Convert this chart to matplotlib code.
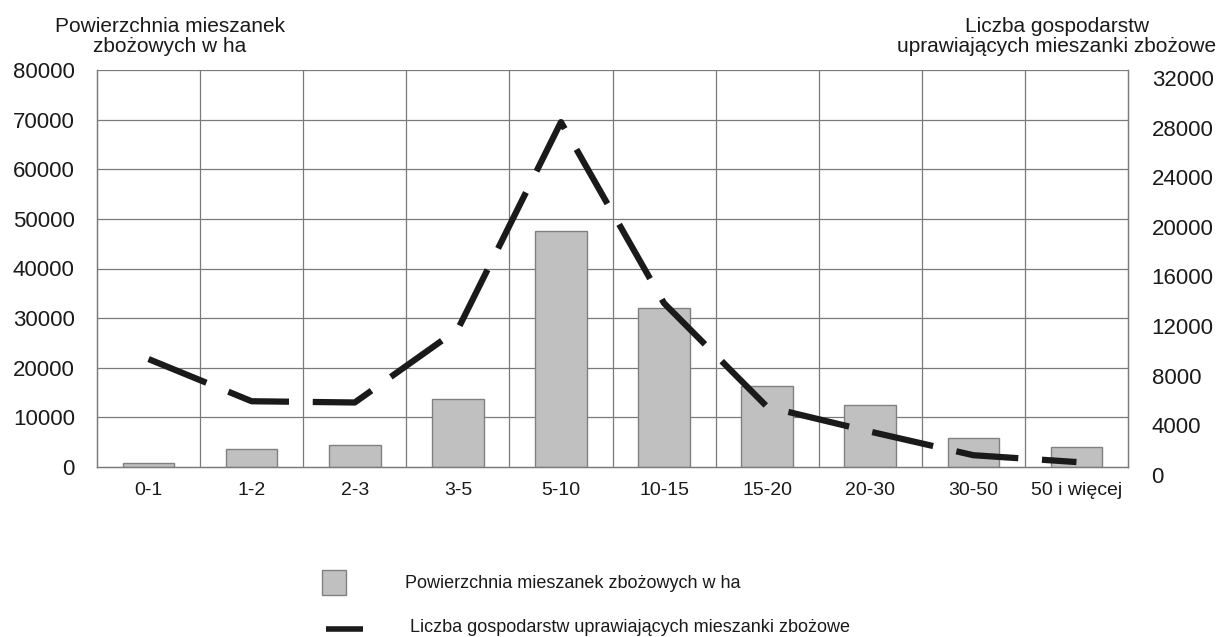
import matplotlib
matplotlib.use("Agg")
import matplotlib.pyplot as plt
import matplotlib.transforms as mtransforms
from matplotlib.patches import Rectangle
from matplotlib.lines import Line2D
import numpy as np

plt.rcParams['font.family'] = ['Liberation Sans', 'DejaVu Sans']

categories = ["0-1", "1-2", "2-3", "3-5", "5-10", "10-15", "15-20", "20-30", "30-50", "50 i więcej"]
area_ha = [900, 3600, 4500, 13800, 47500, 32000, 16300, 12400, 5900, 4000]
farms = [8700, 5300, 5200, 11100, 27800, 13200, 4850, 2850, 950, 400]

left_ticks = [0, 10000, 20000, 30000, 40000, 50000, 60000, 70000, 80000]
right_ticks = [0, 4000, 8000, 12000, 16000, 20000, 24000, 28000, 32000]

label_area = "Powierzchnia mieszanek zbożowych w ha"
label_farms = "Liczba gospodarstw uprawiających mieszanki zbożowe"

W, H = 1223, 637
fig = plt.figure(figsize=(W / 100, H / 100), dpi=100)
ax = fig.add_axes([97 / W, (H - 467) / H, (1128 - 97) / W, (467 - 70) / H])
ax2 = ax.twinx()

x = np.arange(len(categories))
grid_c = '#7a7a7a'

ax.bar(x, area_ha, width=0.5, color='#c0c0c0', edgecolor='#808080', linewidth=1.0, zorder=3)
ax.set_xlim(-0.5, len(categories) - 0.5)
ax.set_ylim(0, 80000)
ax.set_yticks(left_ticks)
ax.set_yticklabels([str(t) for t in left_ticks])

# siatka: poziome linie na podziałkach, pionowe na granicach kategorii
for t in left_ticks[1:]:
    ax.axhline(t, color=grid_c, lw=0.9, zorder=1)
for b in np.arange(0.5, len(categories) - 0.5, 1.0):
    ax.axvline(b, color=grid_c, lw=0.9, zorder=1)

ax.set_xticks(x)
ax.set_xticklabels(categories)

ax2.plot(x, farms, color='#1a1a1a', lw=4.5, dashes=(10, 3.8), dash_capstyle='butt',
         solid_capstyle='butt', zorder=4)
ax2.set_ylim(0, 32000)
ax2.set_yticks(right_ticks)
ax2.set_yticklabels([str(t) for t in right_ticks])

for a in (ax, ax2):
    a.spines['top'].set_visible(False)
    for s in ('left', 'right', 'bottom'):
        a.spines[s].set_color(grid_c)
        a.spines[s].set_linewidth(0.9)
    a.tick_params(length=0)

ax.tick_params(axis='y', labelsize=16, pad=16, labelcolor='#1a1a1a')
ax.tick_params(axis='x', labelsize=14, pad=11, labelcolor='#1a1a1a')
ax2.tick_params(axis='y', labelsize=16, pad=17, labelcolor='#1a1a1a')

# prawe etykiety są w oryginale nieco niżej
shift = mtransforms.ScaledTranslation(0, -0.08, fig.dpi_scale_trans)
for lbl in ax2.get_yticklabels():
    lbl.set_transform(lbl.get_transform() + shift)

fig.text(170 / W, 1 - 17 / H, "Powierzchnia mieszanek\nzbożowych w ha", ha='center', va='top',
         fontsize=15, linespacing=1.05, color='#1a1a1a')
fig.text(1057 / W, 1 - 17 / H, "Liczba gospodarstw\nuprawiających mieszanki zbożowe", ha='center',
         va='top', fontsize=15, linespacing=1.05, color='#1a1a1a')

# legenda
fig.add_artist(Rectangle((322 / W, 1 - 595 / H), 24 / W, 25 / H, transform=fig.transFigure,
                         facecolor='#c0c0c0', edgecolor='#808080', lw=1.0))
fig.add_artist(Line2D([326 / W, 363 / W], [1 - 629 / H, 1 - 629 / H], transform=fig.transFigure,
                      color='#1a1a1a', lw=4.0, solid_capstyle='butt'))
fig.text(405 / W, 1 - 583 / H, label_area, ha='left', va='center', fontsize=13, color='#1a1a1a')
fig.text(410 / W, 1 - 628 / H, label_farms, ha='left', va='center', fontsize=13, color='#1a1a1a')

fig.savefig("out.png", dpi=100)
